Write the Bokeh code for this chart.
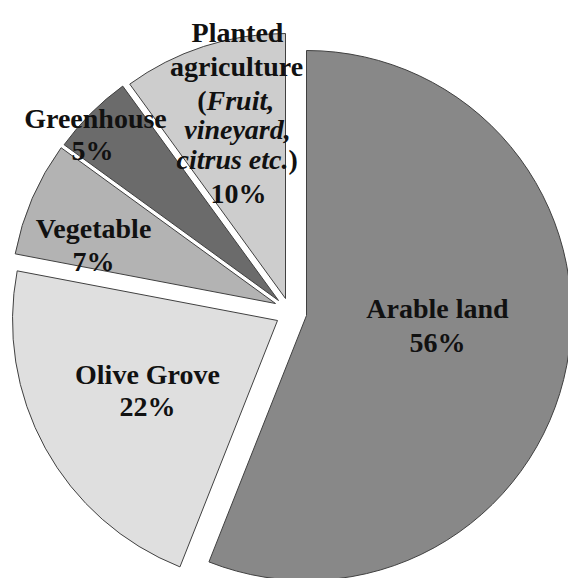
import math
from bokeh.plotting import figure
from bokeh.models import ColumnDataSource, Range1d
from bokeh.embed import file_html
from bokeh.resources import INLINE
from bokeh.core.properties import value

# ---- data ----
categories = ["Arable land", "Olive Grove", "Vegetable", "Greenhouse", "Planted agriculture"]
shares = [56, 22, 7, 5, 10]
pct_labels = ["56%", "22%", "7%", "5%", "10%"]

# ---- styling / layout ----
colors = ["#888888", "#dfdfdf", "#b3b3b3", "#6b6b6b", "#cdcdcd"]
W, H = 568, 578
R = 265
CX, CY = 283, 305                      # pie centre, in pixels from top-left
explode = [(23, 10), (-6, 15), (-8, -2), (-5, -5), (2, -7)]   # slice offsets (px)

total = float(sum(shares))
xs, ys, starts, ends = [], [], [], []
cum = 0.0
for s, (dx, dy) in zip(shares, explode):
    a0 = 360.0 * cum / total
    cum += s
    a1 = 360.0 * cum / total
    xs.append(CX + dx)
    ys.append(H - (CY + dy))
    starts.append(math.radians(90 - a1))
    ends.append(math.radians(90 - a0))

src = ColumnDataSource(dict(x=xs, y=ys, start=starts, end=ends, color=colors, cat=categories))

p = figure(width=W, height=H, x_range=Range1d(0, W), y_range=Range1d(0, H),
           output_backend="svg", toolbar_location=None,
           x_axis_location=None, y_axis_location=None, min_border=0)
p.grid.visible = False
p.outline_line_color = None
p.background_fill_color = "white"
p.border_fill_color = "white"

p.wedge(x="x", y="y", radius=R, start_angle="start", end_angle="end",
        fill_color="color", line_color="#404040", line_width=1, source=src)

# ---- labels: (text, x px, baseline y px, style, align) ----
name_lines = {
    0: [[("Arable land", 437, 308, "bold", "center")]],
    1: [[("Olive Grove", 147, 374, "bold", "center")]],
    2: [[("Vegetable", 93, 228, "bold", "center")]],
    3: [[("Greenhouse", 95, 118, "bold", "center")]],
    4: [[("Planted", 237, 32, "bold", "center")],
        [("agriculture", 236, 66, "bold", "center")],
        [("(", 206, 100, "bold", "right"), ("Fruit,", 206, 100, "bold italic", "left")],
        [("vineyard,", 237, 129, "bold italic", "center")],
        [("citrus etc.", 288, 159, "bold italic", "right"), (")", 288, 159, "bold", "left")]],
}
pct_pos = [(437, 342), (147, 406), (93, 261), (92, 150), (238, 193)]

tx, ty, tt, tstyle, talign = [], [], [], [], []
for i in range(len(categories)):
    for line in name_lines[i]:
        for (t, x, y, st, al) in line:
            tx.append(x); ty.append(H - y); tt.append(t); tstyle.append(st); talign.append(al)
    x, y = pct_pos[i]
    tx.append(x); ty.append(H - y); tt.append(pct_labels[i]); tstyle.append("bold"); talign.append("center")

tsrc = ColumnDataSource(dict(x=tx, y=ty, text=tt, style=tstyle, align=talign))
p.text(x="x", y="y", text="text", source=tsrc, text_font=value("Liberation Serif"),
       text_font_size="28px", text_font_style="style", text_align="align",
       text_baseline="alphabetic", text_color="#111111")

open("out.html", "w").write(file_html(p, INLINE))
